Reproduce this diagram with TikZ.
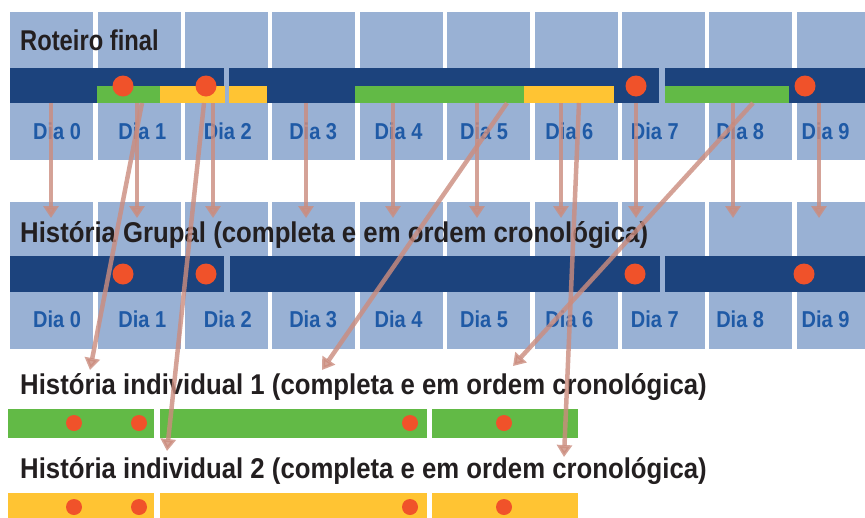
\documentclass[tikz,border=0pt]{standalone}
\usepackage{fontspec}
\setmainfont{Liberation Sans}
\newfontfamily\headfont[FakeStretch=0.83]{Liberation Sans}
\newfontfamily\storyfont[FakeStretch=0.9]{Liberation Sans}
\newfontfamily\dayfont[FakeStretch=0.87]{Liberation Sans}
\usepackage{tikz}
\usetikzlibrary{arrows.meta, positioning}
\definecolor{columnblue}{RGB}{153,177,212}
\definecolor{barblue}{RGB}{28,67,125}
\definecolor{storygreen}{RGB}{98,186,70}
\definecolor{storyyellow}{RGB}{255,196,51}
\definecolor{dotred}{RGB}{240,82,42}
\definecolor{titleblack}{RGB}{35,31,32}
\definecolor{labelblue}{RGB}{31,90,166}
\definecolor{arrowpink}{RGB}{203,140,126}
\tikzstyle{daytop}=[rectangle, inner sep=0pt, minimum width=83pt, minimum height=148pt, fill=columnblue]
\tikzstyle{daymid}=[rectangle, inner sep=0pt, minimum width=83pt, minimum height=147pt, fill=columnblue]
\tikzstyle{dialabel}=[inner sep=0pt, anchor=base, text=labelblue, font=\dayfont\bfseries\fontsize{23}{24}\selectfont]
\tikzstyle{title}=[inner sep=0pt, anchor=base west, text=titleblack, font=\headfont\bfseries\fontsize{28.6}{30}\selectfont]
\tikzstyle{storytitle}=[title, font=\storyfont\bfseries\fontsize{28.6}{30}\selectfont]
\tikzstyle{bar}=[rectangle, inner sep=0pt, anchor=north west]
\tikzstyle{bigdot}=[circle, inner sep=0pt, minimum size=21pt, fill=dotred]
\tikzstyle{smalldot}=[circle, inner sep=0pt, minimum size=16pt, fill=dotred]
\tikzstyle{arrow}=[line width=4.5pt, draw=arrowpink, fill=arrowpink, draw opacity=0.8, fill opacity=0.8, -{Triangle[length=12pt, width=15pt]}]

\begin{document}
\begin{tikzpicture}[x=1pt, y=-1pt]
		\clip (0,0) rectangle (865,517);
		% roteiro final
		\node(c0)[daytop, anchor=north west] at (10,12) {};
		\node(c1)[daytop, right=4pt of c0] {};
		\node(c2)[daytop, right=4pt of c1] {};
		\node(c3)[daytop, right=4pt of c2] {};
		\node(c4)[daytop, right=4pt of c3] {};
		\node(c5)[daytop, right=4pt of c4] {};
		\node(c6)[daytop, right=4pt of c5] {};
		\node(c7)[daytop, right=4pt of c6] {};
		\node(c8)[daytop, right=4pt of c7] {};
		\node(c9)[daytop, right=4pt of c8] {};
		\node(l0)[dialabel] at (57,139) {Dia 0};
		\node(l1)[dialabel] at (142.4,139) {Dia 1};
		\node(l2)[dialabel] at (227.8,139) {Dia 2};
		\node(l3)[dialabel] at (313.2,139) {Dia 3};
		\node(l4)[dialabel] at (398.6,139) {Dia 4};
		\node(l5)[dialabel] at (484,139) {Dia 5};
		\node(l6)[dialabel] at (569.4,139) {Dia 6};
		\node(l7)[dialabel] at (654.8,139) {Dia 7};
		\node(l8)[dialabel] at (740.2,139) {Dia 8};
		\node(l9)[dialabel] at (825.6,139) {Dia 9};
		\node(roteiro)[title] at (20,50) {Roteiro final};
		\node(rb1)[bar, fill=barblue, minimum width=214pt, minimum height=35pt] at (10,68) {};
		\node(rb2)[bar, fill=barblue, minimum width=430pt, minimum height=35pt] at (229,68) {};
		\node(rb3)[bar, fill=barblue, minimum width=200pt, minimum height=35pt] at (665,68) {};
		\node(rg1)[bar, fill=storygreen, minimum width=63pt, minimum height=17pt] at (97,86) {};
		\node(ry1)[bar, fill=storyyellow, minimum width=65pt, minimum height=17pt] at (160,86) {};
		\node(ry2)[bar, fill=storyyellow, minimum width=38pt, minimum height=17pt] at (229,86) {};
		\node(rg2)[bar, fill=storygreen, minimum width=169pt, minimum height=17pt] at (355,86) {};
		\node(ry3)[bar, fill=storyyellow, minimum width=90pt, minimum height=17pt] at (524,86) {};
		\node(rg3)[bar, fill=storygreen, minimum width=124pt, minimum height=17pt] at (665,86) {};
		\node(rd1)[bigdot] at (123,86) {};
		\node(rd2)[bigdot] at (206,86) {};
		\node(rd3)[bigdot] at (636,86) {};
		\node(rd4)[bigdot] at (805,86) {};

		% historia grupal
		\node(m0)[daymid, anchor=north west] at (10,202) {};
		\node(m1)[daymid, right=4pt of m0] {};
		\node(m2)[daymid, right=4pt of m1] {};
		\node(m3)[daymid, right=4pt of m2] {};
		\node(m4)[daymid, right=4pt of m3] {};
		\node(m5)[daymid, right=4pt of m4] {};
		\node(m6)[daymid, right=4pt of m5] {};
		\node(m7)[daymid, right=4pt of m6] {};
		\node(m8)[daymid, right=4pt of m7] {};
		\node(m9)[daymid, right=4pt of m8] {};
		\node(n0)[dialabel] at (57,327) {Dia 0};
		\node(n1)[dialabel] at (142.4,327) {Dia 1};
		\node(n2)[dialabel] at (227.8,327) {Dia 2};
		\node(n3)[dialabel] at (313.2,327) {Dia 3};
		\node(n4)[dialabel] at (398.6,327) {Dia 4};
		\node(n5)[dialabel] at (484,327) {Dia 5};
		\node(n6)[dialabel] at (569.4,327) {Dia 6};
		\node(n7)[dialabel] at (654.8,327) {Dia 7};
		\node(n8)[dialabel] at (740.2,327) {Dia 8};
		\node(n9)[dialabel] at (825.6,327) {Dia 9};
		\node(grupal)[storytitle] at (20,242) {História Grupal (completa e em ordem cronológica)};
		\node(gb1)[bar, fill=barblue, minimum width=214pt, minimum height=36pt] at (10,256) {};
		\node(gb2)[bar, fill=barblue, minimum width=430pt, minimum height=36pt] at (230,256) {};
		\node(gb3)[bar, fill=barblue, minimum width=200pt, minimum height=36pt] at (665,256) {};
		\node(gd1)[bigdot] at (123,274) {};
		\node(gd2)[bigdot] at (206,274) {};
		\node(gd3)[bigdot] at (635,274) {};
		\node(gd4)[bigdot] at (804,274) {};

		% historias individuais
		\node(ind1)[storytitle] at (20,394) {História individual 1 (completa e em ordem cronológica)};
		\node(ib1)[bar, fill=storygreen, minimum width=146pt, minimum height=29pt] at (8,409) {};
		\node(ib2)[bar, fill=storygreen, minimum width=267pt, minimum height=29pt] at (160,409) {};
		\node(ib3)[bar, fill=storygreen, minimum width=146pt, minimum height=29pt] at (432,409) {};
		\node(id1)[smalldot] at (74,423) {};
		\node(id2)[smalldot] at (139,423) {};
		\node(id3)[smalldot] at (410,423) {};
		\node(id4)[smalldot] at (504,423) {};
		\node(ind2)[storytitle] at (20,478) {História individual 2 (completa e em ordem cronológica)};
		\node(jb1)[bar, fill=storyyellow, minimum width=146pt, minimum height=26pt] at (8,493) {};
		\node(jb2)[bar, fill=storyyellow, minimum width=267pt, minimum height=26pt] at (160,493) {};
		\node(jb3)[bar, fill=storyyellow, minimum width=146pt, minimum height=26pt] at (432,493) {};
		\node(jd1)[smalldot] at (74,507) {};
		\node(jd2)[smalldot] at (139,507) {};
		\node(jd3)[smalldot] at (410,507) {};
		\node(jd4)[smalldot] at (504,507) {};

		% arrow ends
		\coordinate(t0) at (51,103);  \coordinate(g0) at (51,218);
		\coordinate(t1) at (137,103); \coordinate(g1) at (137,218);
		\coordinate(t2) at (213,103); \coordinate(g2) at (213,218);
		\coordinate(t3) at (306,103); \coordinate(g3) at (306,218);
		\coordinate(t4) at (393,103); \coordinate(g4) at (393,218);
		\coordinate(t5) at (477,103); \coordinate(g5) at (477,218);
		\coordinate(t6) at (561,103); \coordinate(g6) at (561,218);
		\coordinate(t7) at (636,103); \coordinate(g7) at (636,218);
		\coordinate(t8) at (733,103); \coordinate(g8) at (733,218);
		\coordinate(t9) at (819,103); \coordinate(g9) at (819,218);
		\coordinate(s1) at (142,103); \coordinate(f1) at (90,370);
		\coordinate(s2) at (204,103); \coordinate(f2) at (167,451);
		\coordinate(s3) at (507,103); \coordinate(f3) at (322,370);
		\coordinate(s4) at (579,103); \coordinate(f4) at (564,457);
		\coordinate(s5) at (753,103); \coordinate(f5) at (513,366);

		\draw[arrow](t0)--(g0);
		\draw[arrow](t1)--(g1);
		\draw[arrow](t2)--(g2);
		\draw[arrow](t3)--(g3);
		\draw[arrow](t4)--(g4);
		\draw[arrow](t5)--(g5);
		\draw[arrow](t6)--(g6);
		\draw[arrow](t7)--(g7);
		\draw[arrow](t8)--(g8);
		\draw[arrow](t9)--(g9);
		\draw[arrow](s1)--(f1);
		\draw[arrow](s2)--(f2);
		\draw[arrow](s3)--(f3);
		\draw[arrow](s4)--(f4);
		\draw[arrow](s5)--(f5);
\end{tikzpicture}
\end{document}
